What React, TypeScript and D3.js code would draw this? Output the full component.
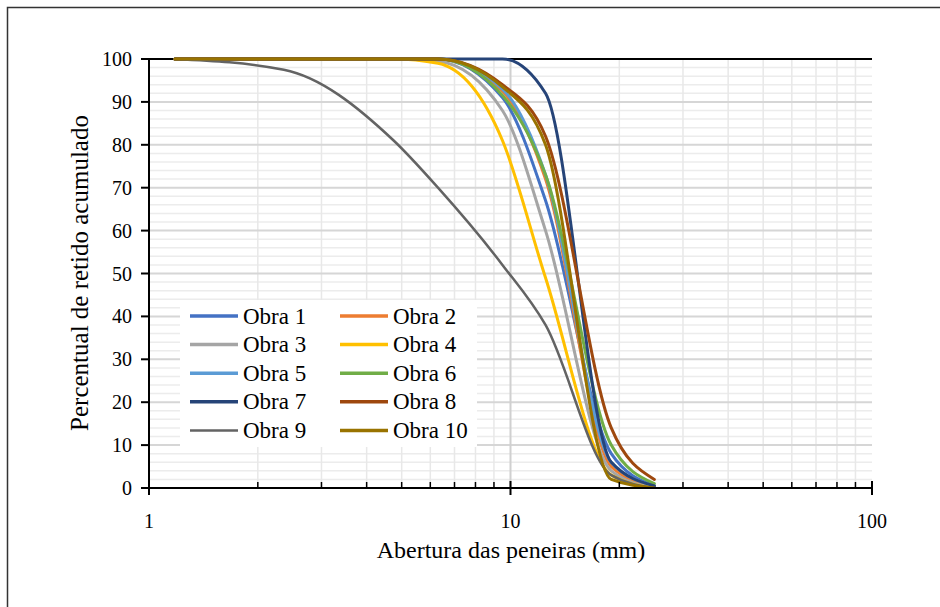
// Curvas granulométricas - gráfico log com D3
import * as d3 from 'd3';
import React from 'react';

// aberturas das peneiras (mm)
const sieves = [1.18, 2.36, 4.75, 6.3, 9.5, 12.5, 19, 25];

const obra1 = [100, 100, 100, 100, 91, 67, 8, 0.5];
const obra2 = [100, 100, 100, 100, 92.5, 72, 5, 0.3];
const obra3 = [100, 100, 100, 99.5, 88, 60, 4, 0];
const obra4 = [100, 100, 100, 99, 81, 49, 3, 0];
const obra5 = [100, 100, 100, 100, 93, 73, 6, 0.5];
const obra6 = [100, 100, 100, 100, 91.5, 73, 10, 1];
const obra7 = [100, 100, 100, 100, 100, 92, 6, 0.5];
const obra8 = [100, 100, 100, 100, 94, 82, 14, 2];
const obra9 = [100, 97.5, 81, 70, 52, 38, 3, 0];
const obra10 = [100, 100, 100, 100, 93.5, 80, 2, 0];

const names = ['Obra 1', 'Obra 2', 'Obra 3', 'Obra 4', 'Obra 5', 'Obra 6', 'Obra 7', 'Obra 8', 'Obra 9', 'Obra 10'];
const colors = ['#4472C4', '#ED7D31', '#A5A5A5', '#FFC000', '#5B9BD5', '#70AD47', '#264478', '#9E480E', '#636363', '#997300'];
const series = [obra1, obra2, obra3, obra4, obra5, obra6, obra7, obra8, obra9, obra10];

const yTicks = [0, 10, 20, 30, 40, 50, 60, 70, 80, 90, 100];
const xTicks = [1, 10, 100];

const FONT = "'Liberation Serif', 'DejaVu Serif', serif";

export default function App() {
  const left = 149, right = 872, top = 59, bottom = 488;
  const x = d3.scaleLog().domain([1, 100]).range([left, right]);
  const y = d3.scaleLinear().domain([0, 100]).range([bottom, top]);

  // grade secundária
  const minorX: number[] = [];
  for (let d = 1; d <= 10; d *= 10) for (let k = 2; k <= 9; k++) minorX.push(k * d);
  const minorY = d3.range(2, 100, 2).filter(v => v % 10 !== 0);

  const line = d3.line<number>()
    .x((d, i) => x(sieves[i]))
    .y(d => y(d))
    .curve(d3.curveMonotoneX);

  const txt = { fontFamily: FONT };

  return (
    <svg width={940} height={607} style={{ position: 'absolute', left: 0, top: 0, background: '#fff', fontFamily: FONT }}>
      <rect x={7.5} y={7.5} width={1000} height={1000} fill="#fff" stroke="#333" strokeWidth={1.5} />
      <defs>
        <clipPath id="plot">
          <rect x={left} y={top - 2} width={right - left} height={bottom - top + 2} />
        </clipPath>
      </defs>

      {/* grid */}
      {minorY.map(v => (
        <line key={'my' + v} x1={left} x2={right} y1={y(v)} y2={y(v)} stroke="#ececec" strokeWidth={1.5} />
      ))}
      {minorX.map(v => (
        <line key={'mx' + v} x1={x(v)} x2={x(v)} y1={top} y2={bottom} stroke="#e8e8e8" strokeWidth={1.5} />
      ))}
      {yTicks.slice(1, -1).map(v => (
        <line key={'gy' + v} x1={left} x2={right} y1={y(v)} y2={y(v)} stroke="#d6d6d6" strokeWidth={2} />
      ))}
      <line x1={x(10)} x2={x(10)} y1={top} y2={bottom} stroke="#d0d0d0" strokeWidth={2} />
      <line x1={left} x2={right} y1={top} y2={top} stroke="#000" strokeWidth={2} />

      {/* curvas */}
      <g clipPath="url(#plot)">
        {series.map((s, i) => (
          <path key={names[i]} d={line(s) || ''} fill="none" stroke={colors[i]}
            strokeWidth={i === 8 ? 2.5 : 3} strokeLinejoin="round" strokeLinecap="round" />
        ))}
      </g>

      {/* eixos */}
      <line x1={left} x2={left} y1={top} y2={bottom} stroke="#000" strokeWidth={2} />
      <line x1={left - 1} x2={right + 1} y1={bottom} y2={bottom} stroke="#000" strokeWidth={2} />
      {yTicks.map(v => (
        <g key={'ty' + v}>
          <line x1={left - 8} x2={left} y1={y(v)} y2={y(v)} stroke="#000" strokeWidth={2} />
          <text style={txt} x={132} y={y(v)} dy="0.35em" textAnchor="end" fontSize={20} fill="#000">{v}</text>
        </g>
      ))}
      {minorX.map(v => (
        <line key={'tx' + v} x1={x(v)} x2={x(v)} y1={bottom - 6} y2={bottom} stroke="#000" strokeWidth={1.5} />
      ))}
      {xTicks.map(v => (
        <g key={'txm' + v}>
          <line x1={x(v)} x2={x(v)} y1={bottom - 7} y2={bottom + 7} stroke="#000" strokeWidth={2} />
          <text style={txt} x={x(v)} y={528} textAnchor="middle" fontSize={20} fill="#000">{v}</text>
        </g>
      ))}

      <text style={txt} x={511} y={558} textAnchor="middle" fontSize={24} fill="#000">Abertura das peneiras (mm)</text>
      <text style={txt} transform="translate(88,273) rotate(-90)" textAnchor="middle" fontSize={25} fill="#000">Percentual de retido acumulado</text>

      {/* legenda */}
      <rect x={180} y={300} width={297} height={147} fill="#fff" />
      {names.map((n, i) => {
        const col = i % 2, row = Math.floor(i / 2);
        const lx = col === 0 ? 190 : 340;
        const ly = 316 + row * 28.6;
        return (
          <g key={'lg' + n}>
            <line x1={lx} x2={lx + 48} y1={ly} y2={ly} stroke={colors[i]} strokeWidth={i === 8 ? 2.5 : 3.5} />
            <text style={txt} x={lx + 53} y={ly} dy="0.33em" fontSize={23} fill="#000">{n}</text>
          </g>
        );
      })}
    </svg>
  );
}
